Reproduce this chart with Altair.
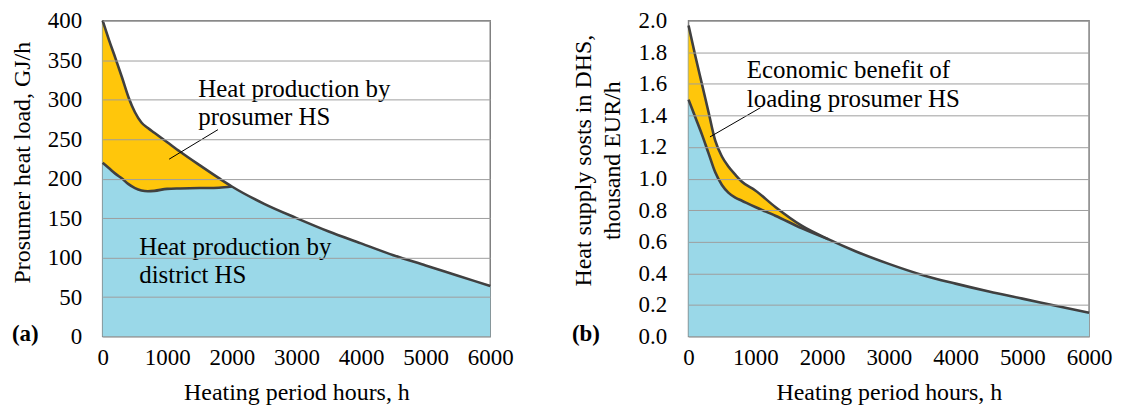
import altair as alt
import pandas as pd

FONT = "Liberation Serif"

# ---------- Panel (a) data ----------
hours_a = [0, 100, 200, 300, 400, 500, 600, 700, 800, 1000, 1200, 1500, 1800, 2000,
           2500, 3000, 3500, 4000, 4500, 5000, 5500, 6000]
total_a = [400, 375, 352, 328, 303, 284, 271, 264, 258, 246, 234, 217, 200.5, 190,
           168, 150, 133, 118, 103, 90, 77, 64]
# district HS share (below the prosumer share), up to the point where they merge
hours_a_band = [0, 100, 200, 300, 400, 500, 600, 700, 800, 1000, 1200, 1500, 1800, 2000]
district_a = [220, 213, 206, 200, 193, 188, 185, 184, 184.5, 187, 187.5, 188, 188.5, 190]

ann_a_text = ["Heat production by", "prosumer HS", "Heat production by", "district HS"]
ann_a_x = [1481, 1481, 566, 566]
ann_a_y = [303, 267.5, 103.4, 68]
ptr_a_x = [1785]
ptr_a_y = [262]
ptr_a_x2 = [1029]
ptr_a_y2 = [224.6]

# ---------- Panel (b) data ----------
hours_b = [0, 100, 200, 300, 400, 500, 600, 700, 800, 1000, 1300, 1700, 2100,
           2500, 3000, 3500, 4000, 4500, 5000, 5500, 6000]
top_b = [1.97, 1.78, 1.60, 1.42, 1.24, 1.14, 1.075, 1.025, 0.98, 0.925, 0.82, 0.70, 0.615,
         0.54, 0.46, 0.39, 0.335, 0.285, 0.24, 0.195, 0.15]
hours_b_band = [0, 100, 200, 300, 400, 500, 600, 700, 800, 1000, 1300, 1700, 2100]
low_b = [1.50, 1.39, 1.28, 1.16, 1.04, 0.96, 0.91, 0.88, 0.86, 0.82, 0.765, 0.685, 0.615]

ann_b_text = ["Economic benefit of", "loading prosumer HS"]
ann_b_x = [873, 873]
ann_b_y = [1.634, 1.451]
ptr_b_x = [1078]
ptr_b_y = [1.449]
ptr_b_x2 = [321]
ptr_b_y2 = [1.264]

x_ticks = [0, 1000, 2000, 3000, 4000, 5000, 6000]
ya_ticks = [0, 50, 100, 150, 200, 250, 300, 350, 400]
yb_ticks = [0.0, 0.2, 0.4, 0.6, 0.8, 1.0, 1.2, 1.4, 1.6, 1.8, 2.0]

YELLOW = "#FFC60B"
BLUE = "#9AD8E8"
LINE = "#404040"
GRID = "#9E9E9E"


def x_axis(width_center):
    return alt.Axis(values=x_ticks, format="d", labelOverlap=False, labelFlush=False,
                    grid=False, ticks=False, tickSize=0, domain=False,
                    labelFont=FONT, labelFontSize=23, labelColor="black", labelPadding=10,
                    title="Heating period hours, h", titleFont=FONT, titleFontSize=24,
                    titleFontWeight="normal", titleColor="black",
                    titleBaseline="alphabetic", titleY=63, titleX=width_center)


def panel(hours, upper, hours_band, lower, ymax, yticks, yfmt, ytitle, ytitle_x, ytitle_y,
          ann_text, ann_x, ann_y, px, py, px2, py2, letter, letter_x, width, label_pad):
    df = pd.DataFrame({"h": hours, "upper": upper})
    up_map = dict(zip(hours, upper))
    band = pd.DataFrame({"h": hours_band, "lower": lower,
                         "upper": [up_map[h] for h in hours_band]})
    ann = pd.DataFrame({"t": ann_text, "x": ann_x, "y": ann_y})
    ptr = pd.DataFrame({"x": px, "y": py, "x2": px2, "y2": py2})
    xs = alt.Scale(domain=[0, 6000], nice=False, zero=True)
    ys = alt.Scale(domain=[0, ymax], nice=False)
    yaxis = alt.Axis(values=yticks, format=yfmt, labelOverlap=False, labelFlush=False,
                     grid=True, gridColor=GRID, gridWidth=1,
                     ticks=False, tickSize=0, domain=False, zindex=1,
                     labelFont=FONT, labelFontSize=23, labelColor="black",
                     labelPadding=label_pad,
                     title=ytitle, titleFont=FONT, titleFontSize=24,
                     titleFontWeight="normal", titleColor="black",
                     titleBaseline="middle", titleAlign="center", titleAngle=270,
                     titleX=ytitle_x, titleY=ytitle_y, titleLineHeight=29)
    xaxis = x_axis(width / 2)
    X = lambda f: alt.X(f, scale=xs, axis=xaxis)
    Y = lambda f: alt.Y(f, scale=ys, axis=yaxis)
    blue = alt.Chart(df).mark_area(color=BLUE, interpolate="monotone").encode(
        x=X("h:Q"), y=Y("upper:Q"))
    yellow = alt.Chart(band).mark_area(color=YELLOW, interpolate="monotone").encode(
        x=X("h:Q"), y=Y("upper:Q"), y2="lower:Q")
    l1 = alt.Chart(df).mark_line(color=LINE, strokeWidth=2.6, interpolate="monotone").encode(
        x=X("h:Q"), y=Y("upper:Q"))
    l2 = alt.Chart(band).mark_line(color=LINE, strokeWidth=2.6, interpolate="monotone").encode(
        x=X("h:Q"), y=Y("lower:Q"))
    rule = alt.Chart(ptr).mark_rule(color="black", strokeWidth=1).encode(
        x=X("x:Q"), y=Y("y:Q"), x2="x2:Q", y2="y2:Q")
    text = alt.Chart(ann).mark_text(font=FONT, fontSize=25, align="left",
                                    baseline="alphabetic", color="black").encode(
        x=X("x:Q"), y=Y("y:Q"), text="t:N")
    lab = alt.Chart(pd.DataFrame({"t": [letter]})).mark_text(
        font=FONT, fontSize=23, fontWeight="bold", align="left",
        baseline="alphabetic", color="black").encode(
        x=alt.value(letter_x), y=alt.value(321), text="t:N")
    return alt.layer(blue, yellow, l1, l2, rule, text, lab).properties(
        width=width, height=317)


pa = panel(hours_a, total_a, hours_a_band, district_a, 400, ya_ticks, "d",
           "Prosumer heat load, GJ/h", -80, 142,
           ann_a_text, ann_a_x, ann_a_y, ptr_a_x, ptr_a_y, ptr_a_x2, ptr_a_y2,
           "(a)", -91, 389, 21)
pb = panel(hours_b, top_b, hours_b_band, low_b, 2.0, yb_ticks, ".1f",
           ["Heat supply sosts in DHS,", "thousand EUR/h"], -105, 140,
           ann_b_text, ann_b_x, ann_b_y, ptr_b_x, ptr_b_y, ptr_b_x2, ptr_b_y2,
           "(b)", -117, 402, 22)

chart = alt.hconcat(pa, pb, spacing=199, bounds="flush").properties(
    padding={"left": 2, "top": 0, "right": 0, "bottom": 0},
    background="white",
).configure(font=FONT).configure_axis(
    labelFont=FONT, titleFont=FONT
).configure_view(stroke="#808080", strokeWidth=1.5)

chart.save("out.html", embed_options={"renderer": "svg", "actions": False})
